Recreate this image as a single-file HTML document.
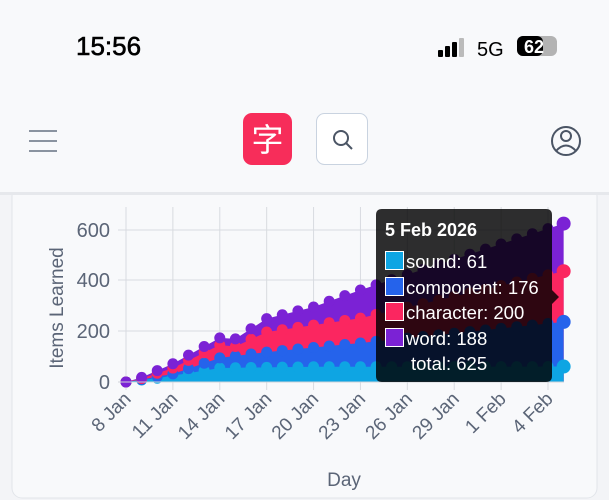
<!DOCTYPE html>
<html><head><meta charset="utf-8"><style>
html,body{margin:0;padding:0;width:609px;height:500px;overflow:hidden;background:#f3f4f7;font-family:"Liberation Sans","Noto Sans CJK SC",sans-serif}
</style></head><body>
<svg width="609" height="500" xmlns="http://www.w3.org/2000/svg" id="s" style="position:absolute;left:0;top:0">
<rect x="0" y="0" width="609" height="500" fill="#f3f4f7"/>
<rect x="12" y="186" width="585" height="312" rx="10" fill="#f8f9fb" stroke="#e2e5ea"/>
<rect x="0" y="0" width="609" height="192" fill="#f8f9fb"/>
<rect x="0" y="192" width="609" height="3" fill="#e6e8ec"/>
<text x="76" y="55" font-size="26" fill="#000" stroke="#000" stroke-width="0.6">15:56</text>
<rect x="438" y="50" width="5" height="7" rx="1" fill="#000"/>
<rect x="445" y="46" width="5" height="11" rx="1" fill="#000"/>
<rect x="452" y="42" width="5" height="15" rx="1" fill="#000"/>
<rect x="459" y="38" width="5" height="19" rx="1" fill="#bbb"/>
<text x="477" y="56" font-size="20" fill="#000">5G</text>
<rect x="517" y="36" width="40" height="20" rx="6" fill="#b3b3b3"/>
<rect x="517" y="36" width="26" height="20" rx="6" fill="#000"/>
<text x="524" y="53" font-size="18" font-weight="bold" fill="#fff">62</text>
<rect x="29" y="130" width="28" height="2" fill="#8a93a0"/><rect x="29" y="140" width="28" height="2" fill="#8a93a0"/><rect x="29" y="150" width="28" height="2" fill="#8a93a0"/>
<rect x="243" y="113" width="49" height="52" rx="9" fill="#f72d5a"/>
<text x="267.5" y="151" font-size="32" fill="#fff" text-anchor="middle" font-family="Noto Sans CJK SC, sans-serif">字</text>
<rect x="316.5" y="113.5" width="51" height="51" rx="8" fill="#fff" stroke="#c9d3e0"/>
<circle cx="341" cy="138" r="7" fill="none" stroke="#4b5565" stroke-width="2"/>
<line x1="346" y1="143" x2="352" y2="149" stroke="#4b5565" stroke-width="2"/>
<circle cx="566" cy="141" r="14" fill="none" stroke="#4b5565" stroke-width="2"/>
<circle cx="566" cy="136" r="5" fill="none" stroke="#4b5565" stroke-width="2"/>
<path d="M556 151 Q566 140 576 151" fill="none" stroke="#4b5565" stroke-width="2"/>
<g id="grid"></g><g id="areas"></g>
<line x1="118" y1="382" x2="564" y2="382" stroke="#cfd3d9"/>
<g font-size="20" fill="#5b6577" text-anchor="end">
<text x="110" y="389">0</text><text x="110" y="338">200</text><text x="110" y="287">400</text><text x="110" y="237">600</text>
</g>
<text transform="translate(63,308) rotate(-90)" font-size="19" fill="#5b6577" text-anchor="middle">Items Learned</text>
<text x="344" y="486" font-size="19" fill="#5b6577" text-anchor="middle">Day</text>
<g id="xl" font-size="19" fill="#5b6577" text-anchor="end"></g>
<path d="M382 209 H546 Q552 209 552 215 V290 L559 297 L552 304 V376 Q552 382 546 382 H382 Q376 382 376 376 V215 Q376 209 382 209Z" fill="#000" fill-opacity="0.82"/>
<text x="385" y="236" font-size="18" font-weight="bold" fill="#fff">5 Feb 2026</text>
<g font-size="18.5" fill="#fff">
<rect x="385.5" y="251.5" width="18" height="18" fill="#0ea5e3" stroke="#fff"/><text x="406" y="268">sound: 61</text>
<rect x="385.5" y="277.5" width="18" height="18" fill="#2563eb" stroke="#fff"/><text x="406" y="294">component: 176</text>
<rect x="385.5" y="302.5" width="18" height="18" fill="#fb2660" stroke="#fff"/><text x="406" y="319">character: 200</text>
<rect x="385.5" y="328.5" width="18" height="18" fill="#7b22d5" stroke="#fff"/><text x="406" y="345">word: 188</text>
<text x="411" y="370">total: 625</text>
</g>
</svg>
<script>
const ns="http://www.w3.org/2000/svg";
function el(t,a,p){const e=document.createElementNS(ns,t);for(const k in a)e.setAttribute(k,a[k]);document.getElementById(p).appendChild(e);return e;}
const X=d=>126+d*15.63, Y=v=>382-v*0.2535;
for(let d=0;d<=27;d+=3){el('line',{x1:X(d),y1:207,x2:X(d),y2:390,stroke:'#d8dbe0'},'grid');}
[230,280,331].forEach(y=>el('line',{x1:118,y1:y,x2:564,y2:y,stroke:'#d8dbe0'},'grid'));
const labs=['8 Jan','11 Jan','14 Jan','17 Jan','20 Jan','23 Jan','26 Jan','29 Jan','1 Feb','4 Feb'];
labs.forEach((l,i)=>{const t=el('text',{transform:`translate(${X(i*3)+6},400) rotate(-45)`},'xl');t.textContent=l;});
function interp(pts,d){for(let i=0;i<pts.length-1;i++){const[a,va]=pts[i],[b,vb]=pts[i+1];if(d>=a&&d<=b)return va+(vb-va)*(d-a)/(b-a);}return pts[pts.length-1][1];}
const S=[[0,0],[1,8],[2,15],[3,25],[4,35],[5,45],[6,55],[8,57],[12,60],[28,61]];
const C=[[0,0],[1,10],[3,32],[6,95],[9,118],[15,154],[28,237]];
const H=[[0,0],[1,14],[3,55],[6,146],[7,140],[9,197],[15,252],[28,437]];
const W=[[0,0],[1,18],[3,72],[6,174],[7,170],[9,250],[12,296],[15,363],[28,625]];
const series=[[W,'#7b22d5'],[H,'#fb2660'],[C,'#2563eb'],[S,'#0ea5e3']];
series.forEach(([p,c])=>{let d='M'+X(0)+' '+Y(0);for(let i=0;i<=28;i++)d+=' L'+X(i)+' '+Y(interp(p,i));d+=' L'+X(28)+' 382 Z';el('path',{d,fill:c},'areas');});
series.slice().reverse().forEach(([p,c])=>{for(let i=0;i<=28;i++)el('circle',{cx:X(i),cy:Y(interp(p,i)),r:i==28?7:5.5,fill:c},'areas');});
</script>
</body></html>
